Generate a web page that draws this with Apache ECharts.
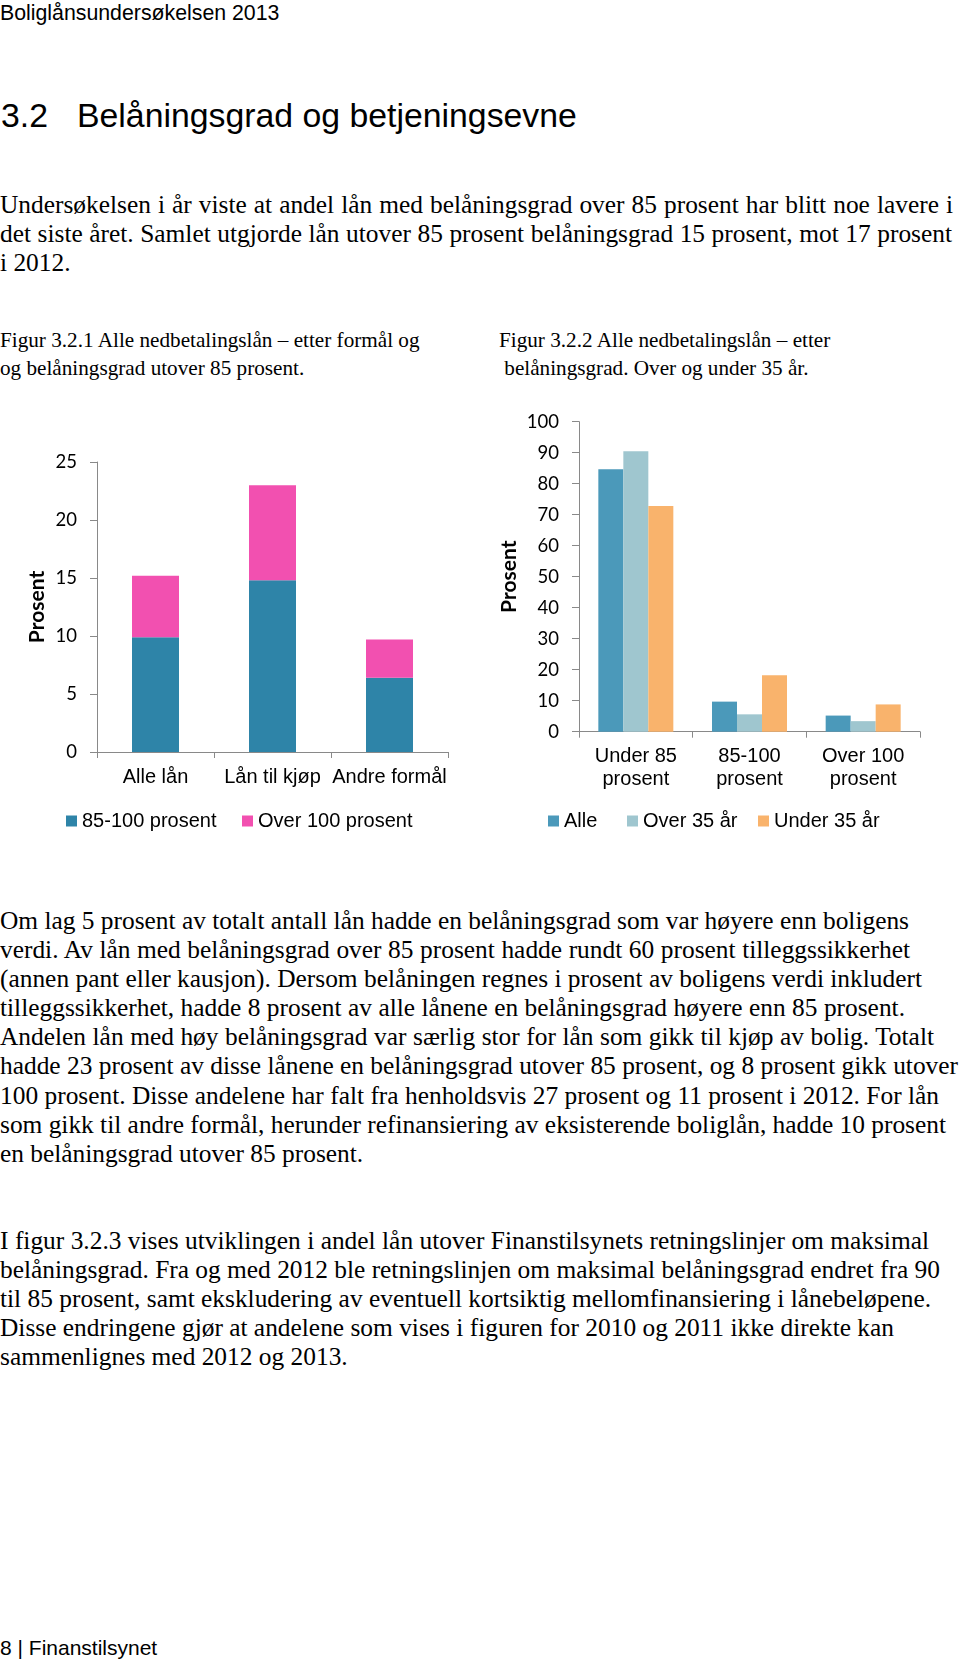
<!DOCTYPE html>
<html>
<head>
<meta charset="utf-8">
<script src="https://cdn.jsdelivr.net/npm/echarts@6/dist/echarts.min.js"></script>
<style>
  html, body { margin: 0; padding: 0; background: #fff; }
  body { width: 960px; height: 1664px; position: relative; overflow: hidden; }
  .t { position: absolute; white-space: pre; color: #000; }
  .arial { font-family: "Liberation Sans", Arial, sans-serif; }
  .serif { font-family: "Liberation Serif", "Times New Roman", serif; }
  .ln { display: block; }
  .ln span { white-space: pre; }
  #chart { position: absolute; left: 0; top: 0; width: 960px; height: 900px; }
</style>
</head>
<body>
<div class="t arial" style="left:0;top:1px;font-size:21.3px;line-height:24px;">Boliglånsundersøkelsen 2013</div>
<div class="t arial" style="left:1px;top:95px;font-size:33.8px;line-height:40px;">3.2</div>
<div class="t arial" style="left:77px;top:95px;font-size:33.8px;line-height:40px;">Belåningsgrad og betjeningsevne</div>

<div id="p1" class="t serif" style="left:0;top:190px;font-size:25.4px;line-height:29.2px;"></div>

<div class="t serif" style="left:0;top:326px;font-size:21.2px;line-height:28px;">Figur 3.2.1 Alle nedbetalingslån – etter formål og
og belåningsgrad utover 85 prosent.</div>
<div class="t serif" style="left:499px;top:326px;font-size:21.2px;line-height:28px;">Figur 3.2.2 Alle nedbetalingslån – etter
 belåningsgrad. Over og under 35 år.</div>

<div id="chart"></div>

<div id="p2" class="t serif" style="left:0;top:906px;font-size:25.4px;line-height:29.1px;"></div>
<div id="p3" class="t serif" style="left:0;top:1226px;font-size:25.4px;line-height:29.1px;"></div>

<div class="t arial" style="left:0;top:1636px;font-size:21px;line-height:24px;">8 | Finanstilsynet</div>

<script>
// Body text lines (as laid out on the page)
const para1 = [
  'Undersøkelsen i år viste at andel lån med belåningsgrad over 85 prosent har blitt noe lavere i',
  'det siste året. Samlet utgjorde lån utover 85 prosent belåningsgrad 15 prosent, mot 17 prosent',
  'i 2012.'
];
const para2 = [
  'Om lag 5 prosent av totalt antall lån hadde en belåningsgrad som var høyere enn boligens',
  'verdi. Av lån med belåningsgrad over 85 prosent hadde rundt 60 prosent tilleggssikkerhet',
  '(annen pant eller kausjon). Dersom belåningen regnes i prosent av boligens verdi inkludert',
  'tilleggssikkerhet, hadde 8 prosent av alle lånene en belåningsgrad høyere enn 85 prosent.',
  'Andelen lån med høy belåningsgrad var særlig stor for lån som gikk til kjøp av bolig. Totalt',
  'hadde 23 prosent av disse lånene en belåningsgrad utover 85 prosent, og 8 prosent gikk utover',
  '100 prosent. Disse andelene har falt fra henholdsvis 27 prosent og 11 prosent i 2012. For lån',
  'som gikk til andre formål, herunder refinansiering av eksisterende boliglån, hadde 10 prosent',
  'en belåningsgrad utover 85 prosent.'
];
const para3 = [
  'I figur 3.2.3 vises utviklingen i andel lån utover Finanstilsynets retningslinjer om maksimal',
  'belåningsgrad. Fra og med 2012 ble retningslinjen om maksimal belåningsgrad endret fra 90',
  'til 85 prosent, samt ekskludering av eventuell kortsiktig mellomfinansiering i lånebeløpene.',
  'Disse endringene gjør at andelene som vises i figuren for 2010 og 2011 ikke direkte kan',
  'sammenlignes med 2012 og 2013.'
];
// line end positions read from the page (px); null = natural width
const para1Ends = [953, 952, null];
const para2Ends = [909, 910, 922, 905, 934, 958, 939, 946, null];
const para3Ends = [929, 940, 931, 894, null];

function fillPara(id, lines, ends) {
  const el = document.getElementById(id);
  lines.forEach((txt, i) => {
    const d = document.createElement('div');
    d.className = 'ln';
    const s = document.createElement('span');
    s.textContent = txt;
    d.appendChild(s);
    el.appendChild(d);
    if (ends[i] == null) return;
    const w = s.getBoundingClientRect().width;
    const n = (txt.match(/ /g) || []).length;
    if (n > 0) {
      const ws = (ends[i] - w) / n;
      s.style.wordSpacing = Math.max(-2, Math.min(2, ws)) + 'px';
    }
  });
}
fillPara('p1', para1, para1Ends);
fillPara('p2', para2, para2Ends);
fillPara('p3', para3, para3Ends);

// Figur 3.2.1
const leftCategories = ['Alle lån', 'Lån til kjøp', 'Andre formål'];
const left85to100 = [9.9, 14.8, 6.4];
const leftOver100 = [5.3, 8.2, 3.3];
const leftTicks = { min: 0, max: 25, interval: 5 };

// Figur 3.2.2
const rightCategories = ['Under 85\nprosent', '85-100\nprosent', 'Over 100\nprosent'];
const rightAlle = [84.7, 9.7, 5.2];
const rightOver35 = [90.5, 5.6, 3.4];
const rightUnder35 = [72.8, 18.2, 8.8];
const rightTicks = { min: 0, max: 100, interval: 10 };

const AX = '#898989';
const numFont = 'Lato, "Open Sans", sans-serif';
const arial = '"Liberation Sans", Arial, sans-serif';

const chart = echarts.init(document.getElementById('chart'), null, { renderer: 'canvas' });

function legendItem(name, left) {
  return {
    data: [name], left: left, top: 811, padding: 0,
    orient: 'horizontal', icon: 'rect', itemWidth: 11, itemHeight: 11,
    textStyle: { fontFamily: arial, fontSize: 20, color: '#000' },
    selectedMode: false
  };
}

const xAxisCommon = {
  type: 'category',
  axisLine: { show: true, lineStyle: { color: AX, width: 1 } },
  axisTick: { show: true, length: 6, lineStyle: { color: AX } },
  axisLabel: { fontFamily: arial, fontSize: 20, color: '#000', lineHeight: 23, interval: 0, hideOverlap: false },
  splitLine: { show: false }
};
const yAxisCommon = {
  type: 'value',
  axisLine: { show: true, lineStyle: { color: AX, width: 1 } },
  axisTick: { show: true, length: 7, lineStyle: { color: AX } },
  axisLabel: { fontFamily: numFont, fontSize: 18.5, color: '#000', margin: 20 },
  splitLine: { show: false },
  name: 'Prosent', nameLocation: 'middle',
  nameTextStyle: { fontFamily: numFont, fontSize: 21, fontWeight: 'bold', color: '#000' }
};

chart.setOption({
  animation: false,
  backgroundColor: 'transparent',
  grid: [
    { left: 97, top: 462, width: 351, height: 290, containLabel: false, outerBoundsMode: 'none' },
    { left: 579, top: 421.7, width: 341, height: 310, containLabel: false, outerBoundsMode: 'none' }
  ],
  legend: [
    legendItem('85-100 prosent', 66),
    legendItem('Over 100 prosent', 242),
    legendItem('Alle', 548),
    legendItem('Over 35 år', 627),
    legendItem('Under 35 år', 758)
  ],
  xAxis: [
    Object.assign({}, xAxisCommon, { gridIndex: 0, data: leftCategories,
      axisLabel: Object.assign({}, xAxisCommon.axisLabel, { margin: 14 }) }),
    Object.assign({}, xAxisCommon, { gridIndex: 1, data: rightCategories,
      axisLabel: Object.assign({}, xAxisCommon.axisLabel, { margin: 13 }) })
  ],
  yAxis: [
    Object.assign({}, yAxisCommon, { gridIndex: 0, min: leftTicks.min, max: leftTicks.max, interval: leftTicks.interval, nameGap: 49 }),
    Object.assign({}, yAxisCommon, { gridIndex: 1, min: rightTicks.min, max: rightTicks.max, interval: rightTicks.interval, nameGap: 59 })
  ],
  series: [
    { name: '85-100 prosent', type: 'bar', xAxisIndex: 0, yAxisIndex: 0, stack: 'l',
      data: left85to100, barWidth: 47, itemStyle: { color: '#2e84a8' } },
    { name: 'Over 100 prosent', type: 'bar', xAxisIndex: 0, yAxisIndex: 0, stack: 'l',
      data: leftOver100, barWidth: 47, itemStyle: { color: '#f250b0' } },
    { name: 'Alle', type: 'bar', xAxisIndex: 1, yAxisIndex: 1,
      data: rightAlle, barWidth: 25, barGap: '0%', itemStyle: { color: '#4b99ba' } },
    { name: 'Over 35 år', type: 'bar', xAxisIndex: 1, yAxisIndex: 1,
      data: rightOver35, barWidth: 25, barGap: '0%', itemStyle: { color: '#9fc6cf' } },
    { name: 'Under 35 år', type: 'bar', xAxisIndex: 1, yAxisIndex: 1,
      data: rightUnder35, barWidth: 25, barGap: '0%', itemStyle: { color: '#f9b36c' } }
  ]
});
</script>
</body>
</html>
